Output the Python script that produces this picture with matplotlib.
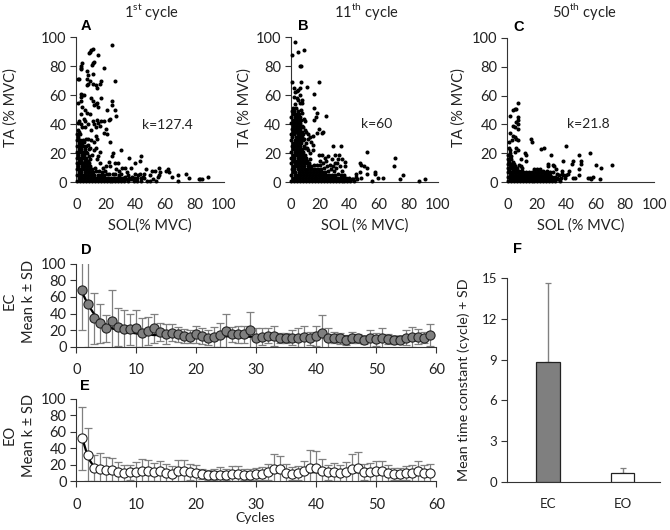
import matplotlib
matplotlib.use('Agg')
import matplotlib.pyplot as plt

plt.rcParams['font.family'] = ['Lato', 'DejaVu Sans']
plt.rcParams['mathtext.fontset'] = 'custom'
plt.rcParams['mathtext.rm'] = 'Lato'

W, H = 670, 530
TXT = '#222222'

points_a = [
(24,95),(11,92),(10,91),(9,90),(8.5,89),(15,88),(12,83),(11,82),(10.5,81),(4,82),(3.5,80),(3,79),(3,78),(19,79),(7,77),(8,74),(11,75),(1,71),(2,71),(26,70),(7,71),(8,68),(7,67),(9,70),(11,68),(13,67),(14,65),(16,68),(17,70),(3,61),(4,60),(3,59),(5,60),(3,56),(1,55),(4,52),(6,50),(7,48),(10,58),(11,56),(12,53),(13,54),(15,52),(14,55),(17,58),(24,56),(24,53),(21,50),(26,50),(27,46),(23,44),(2,42),(1,41),(3,40),(5,44),(6,42),(4,38),(11,42),(12,40),(13,38),(14,43),(15,41),(16,39),(17,42),(19,42),(22,43),(20,37),(19,34),(21,33),(23,28),(13,32),(14,30),(10,29),(8,30),(12,28),(1,36),(2,35),(6,38),(9,47),(3,47),(8,40),(10,36),
(89,4),(84,2),(83,2),(85,2),(76,3),(74,6),(69,5),(69,1),(65,4),(63,7),(62,9),(61,8),(56,10),(57,7),(56,5),(55,4),(53,8),(51,8),(50,5),(50,1),(47,9),(46,6),(45,4),(44,18),(43,15),(40,13),(36,17),(30,22),(33,10),(37,10),(40,6),(42,5),(44,3),(44,1),(54,1),(52,2),(48,1),(25,20),(24,18),(22,14),(26,13),(28,13),(31,10),(29,8),(20,11),(18,10),(16,13),(14,16),(15,18),(16,21),(13,24),(23,11),(27,9),(34,7),(38,4),(41,3),(36,3),(33,4),(43,6),(46,3),(39,1),
(0.5,1),(0.4,5),(0.6,9),(0.5,13),(0.3,17),(0.5,21),(0.7,25),(0.5,29),(0.4,33),(1.5,3),(1.8,7),(1.3,11),(1.6,15),(1.4,19),(1.7,23),(1.5,27),(1.2,31),(2.5,1),(2.8,5),(2.2,9),(2.6,13),(2.4,17),(2.7,21),(2.3,25),(2.6,29),(2.4,33),(3.5,3),(3.2,7),(3.8,11),(3.4,15),(3.6,19),(3.3,23),(3.7,27),(4.5,1),(4.2,5),(4.8,9),(4.4,13),(4.7,17),(4.3,21),(4.6,25),(4.4,29),(5.5,3),(5.8,7),(5.2,11),(5.6,15),(5.3,19),(5.7,23),(5.4,28),(6.5,1),(6.2,5),(6.8,9),(6.3,13),(6.7,17),(6.4,21),(6.6,25),(6.5,30),(7.5,3),(7.8,7),(7.2,11),(7.6,15),(7.4,20),(7.7,26),(8.5,1),(8.2,5),(8.8,9),(8.4,13),(8.6,18),(8.3,23),(9.5,3),(9.8,7),(9.2,11),(9.6,16),(9.4,24),(10.5,1),(10.2,5),(10.8,9),(10.4,19),(11.5,3),(11.2,7),(11.7,22),(12.5,1),(12.2,5),(12.8,10),(13.5,3),(13.2,8),(14.5,1),(14.8,5),(15.5,3),(15.2,8),(16.5,1),(16.8,5),(17.5,3),(17.2,7),(18.5,1),(18.8,5),(19.5,3),(19.2,8),(20.5,1),(20.8,6),(21.5,3),(22.5,1),(22.2,6),(23.5,3),(24.5,1),(24.8,6),(25.5,3),(26.5,1),(26.2,6),(27.5,3),(28.5,1),(28.8,5),(29.5,3),(30.5,1),(30.2,6),(31.5,3),(32.5,1),(33.5,2),(35,1),(35,5),(37,2),(39,3),(41,1),
]

points_b = [
(3,97),(1,88),(5,90),(9,91),(6,80),(7,80),(1,69),(7,69),(19,69),(11,66),(2,65),(4,63),(5,64),(6,65),(3,62),(16,61),(6,60),(2,59),(4,58),(5,57),(8,57),(8,55),(6,55),(3,54),(16,51),(18,48),(24,46),(17,45),(16,43),(19,37),(18,34),(21,34),(22,35),(15,32),(12,33),(13,31),(15,26),(14,28),(29,25),(34,25),(52,21),(71,17),(70,11),(76,5),(74,2),(87,1),(91,2),(63,3),(59,3),(57,7),(55,1),(57,6),(52,10),(50,11),(48,12),(47,13),(52,6),(47,7),(48,3),(45,2),(44,6),(44,4),(42,2),(30,19),(33,19),(32,16),(35,16),(37,14),(37,11),(30,13),(31,10),(35,8),(34,5),(28,16),(24,15),(25,18),(21,19),(19,19),(23,17),(20,15),(15,22),(12,22),(13,20),(11,24),
(0.5,1),(0.4,5),(0.6,9),(0.5,13),(0.3,17),(0.5,21),(0.7,25),(0.5,29),(0.4,33),(0.6,37),(0.5,41),(0.4,45),(0.6,49),(1.5,3),(1.8,7),(1.3,11),(1.6,15),(1.4,19),(1.7,23),(1.5,27),(1.2,31),(1.6,35),(1.4,39),(1.7,43),(1.3,47),(1.5,51),(2.5,1),(2.8,5),(2.2,9),(2.6,13),(2.4,17),(2.7,21),(2.3,25),(2.6,29),(2.4,33),(2.7,37),(2.3,41),(2.6,45),(2.4,49),(3.5,3),(3.2,7),(3.8,11),(3.4,15),(3.6,19),(3.3,23),(3.7,27),(3.4,31),(3.6,35),(3.3,39),(3.7,43),(3.4,47),(3.6,51),(4.5,1),(4.2,5),(4.8,9),(4.4,13),(4.7,17),(4.3,21),(4.6,25),(4.4,29),(4.7,33),(4.3,37),(4.6,41),(4.4,45),(4.7,49),(5.5,3),(5.8,7),(5.2,11),(5.6,15),(5.3,19),(5.7,23),(5.4,27),(5.6,31),(5.3,35),(5.7,39),(5.4,43),(5.6,47),(6.5,1),(6.2,5),(6.8,9),(6.3,13),(6.7,17),(6.4,21),(6.6,25),(6.3,29),(6.7,33),(6.4,37),(6.6,41),(6.3,45),(6.7,50),(7.5,3),(7.8,7),(7.2,11),(7.6,15),(7.4,19),(7.7,23),(7.3,27),(7.6,31),(7.4,35),(7.7,39),(7.3,43),(7.6,48),(8.5,1),(8.2,5),(8.8,9),(8.4,13),(8.6,17),(8.3,21),(8.7,25),(8.4,29),(8.6,33),(8.3,38),(8.7,44),(9.5,3),(9.8,7),(9.2,11),(9.6,15),(9.4,19),(9.7,24),(9.3,30),(9.6,36),(9.4,42),(10.5,1),(10.2,5),(10.8,9),(10.4,13),(10.6,17),(10.3,27),(10.7,35),(11.5,3),(11.2,7),(11.8,11),(11.4,15),(11.6,30),(12.5,1),(12.2,5),(12.8,9),(12.4,13),(13.5,3),(13.2,7),(13.8,11),(13.4,16),(14.5,1),(14.2,5),(14.8,9),(15.5,3),(15.2,7),(15.8,12),(16.5,1),(16.2,5),(16.8,9),(17.5,3),(17.2,7),(17.8,12),(18.5,1),(18.2,5),(18.8,9),(19.5,3),(19.2,7),(19.8,12),(20.5,1),(20.2,5),(20.8,9),(21.5,3),(21.2,7),(21.8,13),(22.5,1),(22.2,5),(22.8,10),(23.5,3),(23.2,7),(24.5,1),(24.2,5),(24.8,11),(25.5,3),(25.2,8),(26.5,1),(26.2,5),(26.8,12),(27.5,3),(27.2,9),(28.5,1),(28.2,5),(28.8,11),(29.5,3),(29.2,8),(30.5,1),(30.2,5),(31.5,3),(31.2,13),(32.5,1),(32.2,6),(33.5,3),(33.2,11),(34.5,1),(35.5,3),(36.5,1),(36.2,5),(37.5,3),(38.5,1),(39.5,3),(40.5,1),(41.5,2),(43,1),
]

points_c = [
(7,55),(5,51),(6,51),(4,50),(2,46),(7,45),(7,43),(6,42),(7,40),(4,39),(5,38),(7,37),(2,34),(4,32),(5,31),(6,30),(7,29),(3,29),(1,28),(16,30),(17,28),(25,24),(23,23),(40,25),(56,20),(49,19),(45,15),(44,13),(50,15),(50,13),(38,15),(30,19),(12,20),(13,19),(1,24),(2,22),(6,24),(7,22),(5,21),(9,16),(13,15),(71,12),(60,12),(64,10),(49,9),(49,5),(56,3),(55,3),(58,4),(57,2),(63,2),(45,3),(46,3),(28,13),(31,12),(32,11),(28,11),(33,9),(37,8),(42,8),(41,6),(38,5),(34,3),(8,12),(9,11),(10,10),(18,9),(20,9),(22,9),(24,8),(27,8),
(0.5,1),(0.4,4),(0.6,7),(0.5,10),(0.3,13),(0.5,16),(0.7,19),(1.5,2),(1.8,5),(1.3,8),(1.6,11),(1.4,14),(1.7,17),(1.5,20),(2.5,1),(2.8,4),(2.2,7),(2.6,10),(2.4,13),(2.7,16),(2.3,18),(3.5,2),(3.2,5),(3.8,8),(3.4,11),(3.6,14),(4.5,1),(4.2,4),(4.8,7),(4.4,10),(4.6,13),(5.5,2),(5.2,5),(5.8,8),(5.4,11),(6.5,1),(6.2,4),(6.8,7),(6.4,10),(7.5,2),(7.2,5),(7.8,8),(8.5,1),(8.2,4),(8.8,7),(9.5,2),(9.2,5),(9.8,8),(10.5,1),(10.2,4),(10.8,7),(11.5,2),(11.2,5),(12.5,1),(12.2,4),(12.8,7),(13.5,2),(13.2,5),(14.5,1),(14.2,4),(14.8,7),(15.5,2),(15.2,5),(16.5,1),(16.2,4),(16.8,7),(17.5,2),(17.2,5),(18.5,1),(18.2,4),(18.8,7),(19.5,2),(19.2,5),(20.5,1),(20.2,4),(20.8,7),(21.5,2),(21.2,5),(22.5,1),(22.2,4),(22.8,7),(23.5,2),(23.2,5),(24.5,1),(24.2,4),(24.8,7),(25.5,2),(25.2,5),(26.5,1),(26.2,4),(26.8,6),(27.5,2),(27.2,5),(28.5,1),(28.2,4),(28.8,7),(29.5,2),(29.2,5),(30.5,1),(30.2,4),(30.8,7),(31.5,2),(32.5,1),(32.2,4),(33.5,6),(34.5,2),(35.5,5),(36.5,3),(37.5,6),(39,3),(40,5),(36,1),
]

cycles = list(range(1, 60))
ec_mean = [68,52,34,28,22,31,24,21,21,22,17,19,22,18,15,17,15,13,12,15,13,11,12,14,19,15,15,15,20,11,12,13,13,10,10,11,11,12,10,13,16,11,11,10,8,11,10,8,10,9,11,9,8,8,11,12,12,11,14]
ec_sd = [48,52,31,24,16,37,23,23,19,22,17,17,18,11,12,10,9,8,8,10,10,9,12,14,21,9,10,10,22,12,10,9,12,6,6,9,11,13,8,12,22,12,7,7,6,7,5,5,10,8,12,6,5,4,9,12,9,7,13]
ec_fit = [65,50,39,31,26,22,20,18,17,16,15,14.5,14,14,13.5,13.5,13,13,13,13,12.5,12.5,12.5,12.5,12.5,12.5,12.5,12,12,12,12,12,12,12,12,12,12,12,12,12,12,12,12,12,12,12,12,12,12,12,12,12,12,12,12,12,12,12,12]

eo_mean = [52,32,16,15,14,14,11,10,11,11,12,13,11,12,10,9,12,13,11,10,9,8,8,8,8,9,9,8,8,9,9,11,15,15,10,9,10,12,16,16,13,11,11,10,11,15,16,11,11,12,12,10,9,9,10,10,12,10,10]
eo_sd = [38,32,16,19,16,14,12,10,9,12,15,13,11,13,11,10,14,13,10,10,6,6,7,9,7,9,9,7,7,7,8,10,18,16,11,8,8,13,22,21,14,9,11,10,12,18,19,10,11,12,13,10,7,7,9,10,12,10,11]
eo_fit = [52,28,17,14,13,12,11,11,11,11,11,11,11,11,11,11,11,11,11,11,11,11,11,11,11,11,11,11,11,11,11,11,11,11,11,11,11,11,11,11,11,11,11,11,11,11,11,11,11,11,11,11,11,11,11,11,11,11,11]

bar_labels = ['EC', 'EO']
bar_means = [8.8, 0.7]
bar_sds = [5.8, 0.35]
bar_colors = ['#7f7f7f', 'white']


def make_axes(x0, x1, y_bottom, y_top):
    return fig.add_axes([x0 / W, 1 - y_bottom / H, (x1 - x0) / W, (y_bottom - y_top) / H])


def style(ax, size=10.5):
    for s in ('top', 'right'):
        ax.spines[s].set_visible(False)
    for s in ('left', 'bottom'):
        ax.spines[s].set_color('#333333')
        ax.spines[s].set_linewidth(0.8)
    ax.tick_params(axis='both', labelsize=size, colors='#333333', labelcolor=TXT,
                   length=3, width=0.8, pad=3)


fig = plt.figure(figsize=(W / 100, H / 100), dpi=100)

scatter_panels = [
    (points_a, (76.3, 224, 182.3, 37.3), 'SOL(% MVC)', 'k=127.4', (62, 39.5), 'A', 86, 26,
     '1$^{\\mathrm{st}}$ cycle', 152),
    (points_b, (290.7, 438, 182.3, 37.3), 'SOL (% MVC)', 'k=60', (58, 40), 'B', 303, 26,
     '11$^{\\mathrm{th}}$ cycle', 366),
    (points_c, (507.3, 654.3, 182.3, 37.7), 'SOL (% MVC)', 'k=21.8', (55, 40), 'C', 519, 27,
     '50$^{\\mathrm{th}}$ cycle', 584),
]
ylabel_x = {'A': 11, 'B': 245, 'C': 459}
for pts, box, xl, k, kpos, letter, lx, ly, title, tx in scatter_panels:
    ax = make_axes(*box)
    xs, ys = zip(*pts)
    ax.scatter(xs, ys, s=8.5, c='black', linewidths=0, clip_on=False, zorder=3)
    ax.set_xlim(0, 100)
    ax.set_ylim(0, 100)
    ax.set_xticks(range(0, 101, 20))
    ax.set_yticks(range(0, 101, 20))
    style(ax, 10.5)
    ax.tick_params(axis='y', length=4)
    ax.tick_params(axis='x', length=0, pad=11)
    ax.set_xlabel(xl, fontsize=10.5, color=TXT, labelpad=5)
    ax.text(kpos[0], kpos[1], k, fontsize=10, color=TXT, ha='center', va='center')
    fig.text(ylabel_x[letter] / W, 1 - 108 / H, 'TA (% MVC)', rotation=90, fontsize=10.5,
             color=TXT, ha='center', va='center')
    fig.text(lx / W, 1 - ly / H, letter, fontsize=10.5, fontweight='bold', color='black',
             family='Liberation Sans', ha='center', va='center')
    fig.text(tx / W, 1 - 11.5 / H, title, fontsize=10.5, color=TXT, ha='center', va='center')

line_panels = [
    (cycles, ec_mean, ec_sd, ec_fit, '#7f7f7f', (346.7, 263.7), 'EC', 'D', 301, 86, 250),
    (cycles, eo_mean, eo_sd, eo_fit, 'white', (481.3, 398.7), 'EO', 'E', 435, 85, 386),
]
for xs, means, sds, fit, col, (yb, yt), cond, letter, yc, lx, ly in line_panels:
    ax = make_axes(76.3, 436.3, yb, yt)
    ax.errorbar(xs, means, yerr=sds, fmt='none', ecolor='#808080', elinewidth=0.9,
                capsize=2.6, capthick=0.9, zorder=2)
    ax.plot(xs, fit, color='black', lw=1.6, zorder=3)
    ax.plot(xs, means, ls='none', marker='o', ms=6.6, mfc=col, mec='#222222', mew=0.8,
            zorder=4, clip_on=False)
    ax.set_xlim(0, 60)
    ax.set_ylim(0, 100)
    ax.set_xticks(range(0, 61, 10))
    ax.set_yticks(range(0, 101, 20))
    style(ax, 10.5)
    ax.tick_params(axis='y', length=4)
    ax.tick_params(axis='x', length=4, pad=8)
    fig.text(10 / W, 1 - yc / H, cond, rotation=90, fontsize=10.5, color=TXT,
             ha='center', va='center')
    fig.text(29 / W, 1 - yc / H, 'Mean k \u00b1 SD', rotation=90, fontsize=10.5, color=TXT,
             ha='center', va='center')
    fig.text(lx / W, 1 - ly / H, letter, fontsize=10.5, fontweight='bold', color='black',
             family='Liberation Sans', ha='center', va='center')
fig.text(255 / W, 1 - 518 / H, 'Cycles', fontsize=10, color=TXT, ha='center', va='center')

ax = make_axes(506.7, 660, 482.3, 277.7)
for i, (m, s, c) in enumerate(zip(bar_means, bar_sds, bar_colors)):
    ax.bar(i, m, width=0.31, color=c, edgecolor='#222222', linewidth=0.9, zorder=3)
    ax.errorbar(i, m, yerr=[[0], [s]], fmt='none', ecolor='#808080', elinewidth=1.0,
                capsize=2.2, capthick=0.9, zorder=2)
ax.set_xlim(-0.553, 1.5)
ax.set_ylim(0, 15)
ax.set_xticks([0, 1])
ax.set_xticklabels(bar_labels)
ax.set_yticks(range(0, 16, 3))
style(ax, 9.5)
ax.tick_params(axis='x', length=0, pad=11)
ax.tick_params(axis='y', length=4)
ax.set_ylabel('Mean time constant (cycle) + SD', fontsize=10.3, color=TXT, labelpad=8)
fig.text(517 / W, 1 - 249 / H, 'F', fontsize=10.5, fontweight='bold', color='black',
         family='Liberation Sans', ha='center', va='center')

fig.savefig('out.png', dpi=100)
